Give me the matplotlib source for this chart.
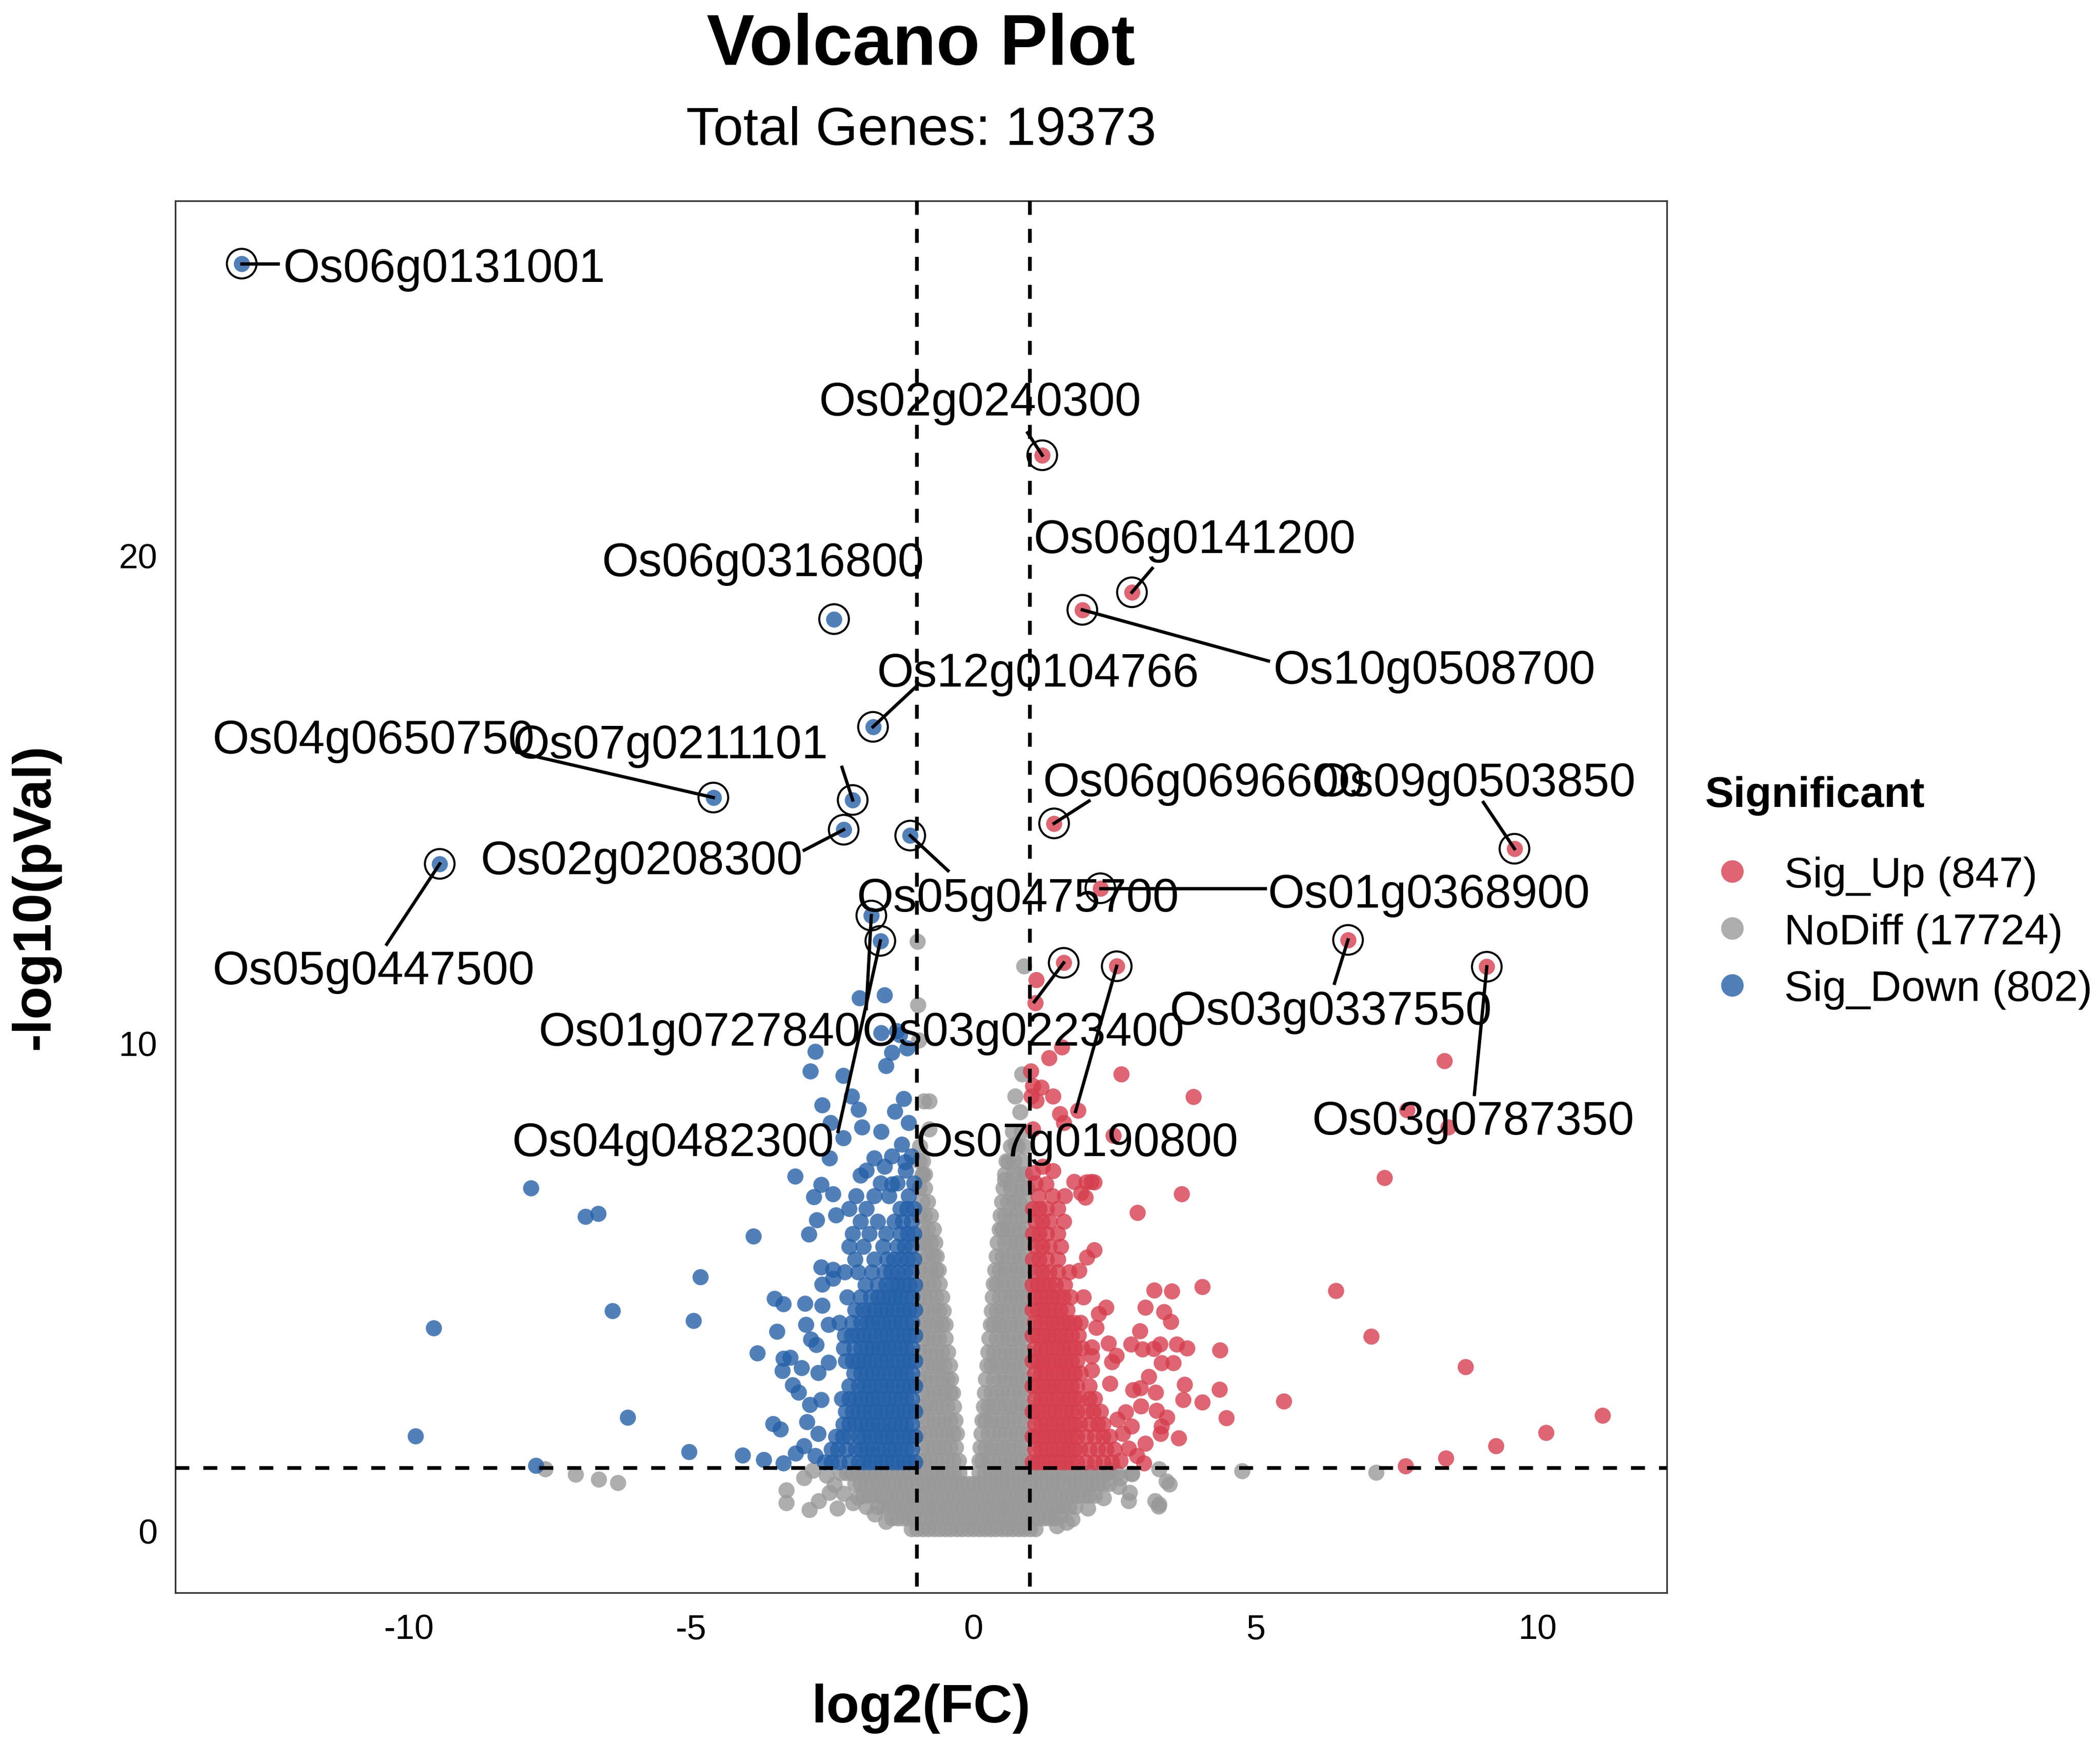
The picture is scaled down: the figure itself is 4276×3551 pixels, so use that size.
import matplotlib.pyplot as plt
from matplotlib.lines import Line2D

plt.rcParams['font.family'] = ['Liberation Sans', 'DejaVu Sans']
plt.rcParams['axes.unicode_minus'] = False

# ---- values ----
categories = ['Sig_Up', 'NoDiff', 'Sig_Down']
counts = [847, 17724, 802]
total_genes = 19373
fc_cut = 1.0
p_line = 1.301  # -log10(0.05)

# dense cores, read row by row: (-log10 p, [log2 FC ...])
nodiff_rows = [
    (0.05, [-1.1, -1.0, -0.9, -0.8, -0.7, -0.6, -0.5, -0.4, -0.3, -0.2, -0.1, 0.0, 0.1, 0.2, 0.3, 0.4, 0.5,
            0.6, 0.7, 0.8, 0.9, 1.0, 1.1]),
    (0.27, [-1.45, -1.35, -1.25, -1.15, -1.05, -0.95, -0.85, -0.75, -0.65, -0.55, -0.45, -0.35, -0.25, -0.15,
            -0.05, 0.05, 0.15, 0.25, 0.35, 0.45, 0.55, 0.65, 0.75, 0.85, 0.95, 1.05, 1.15, 1.25, 1.35, 1.45]),
    (0.5, [-1.7, -1.6, -1.5, -1.4, -1.3, -1.2, -1.1, -1.0, -0.9, -0.8, -0.7, -0.6, -0.5, -0.4, -0.3, -0.2,
           -0.1, 0.0, 0.1, 0.2, 0.3, 0.4, 0.5, 0.6, 0.7, 0.8, 0.9, 1.0, 1.1, 1.2, 1.3, 1.4, 1.5, 1.6, 1.7, 1.8]),
    (0.74, [-1.95, -1.85, -1.75, -1.65, -1.55, -1.45, -1.35, -1.25, -1.15, -1.05, -0.95, -0.85, -0.75, -0.65,
            -0.55, -0.45, -0.35, -0.25, -0.15, -0.05, 0.05, 0.15, 0.25, 0.35, 0.45, 0.55, 0.65, 0.75, 0.85,
            0.95, 1.05, 1.15, 1.25, 1.35, 1.45, 1.55, 1.65, 1.75, 1.85, 1.95, 2.05, 2.15]),
    (0.98, [-2.1, -2.0, -1.9, -1.8, -1.7, -1.6, -1.5, -1.4, -1.3, -1.2, -1.1, -1.0, -0.9, -0.8, -0.7, -0.6,
            -0.5, -0.4, -0.3, -0.2, -0.1, 0.0, 0.1, 0.2, 0.3, 0.4, 0.5, 0.6, 0.7, 0.8, 0.9, 1.0, 1.1, 1.2,
            1.3, 1.4, 1.5, 1.6, 1.7, 1.8, 1.9, 2.0, 2.1, 2.2, 2.3, 2.4]),
    (1.2, [-2.35, -2.25, -2.15, -2.05, -1.95, -1.85, -1.75, -1.65, -1.55, -1.45, -1.35, -1.25, -1.15, -1.05,
           -0.95, -0.85, -0.75, -0.65, -0.55, -0.45, -0.35, -0.25, 0.1, 0.2, 0.3, 0.4, 0.5, 0.6, 0.7, 0.8,
           0.9, 1.0, 1.1, 1.2, 1.3, 1.4, 1.5, 1.6, 1.7, 1.8, 1.9, 2.0, 2.1, 2.2, 2.3, 2.4, 2.55]),
    (1.45, [-0.96, -0.86, -0.76, -0.66, -0.56, -0.46, -0.36, -0.26, 0.1, 0.16, 0.26, 0.36, 0.46, 0.56, 0.66,
            0.76, 0.86, 0.96]),
    (1.72, [-0.91, -0.81, -0.71, -0.61, -0.51, -0.41, -0.31, 0.12, 0.21, 0.31, 0.41, 0.51, 0.61, 0.71, 0.81,
            0.91]),
    (2.0, [-0.96, -0.86, -0.76, -0.66, -0.56, -0.46, -0.36, -0.3, 0.14, 0.26, 0.36, 0.46, 0.56, 0.66, 0.76,
           0.86, 0.96]),
    (2.28, [-0.91, -0.81, -0.71, -0.61, -0.51, -0.41, -0.32, 0.16, 0.21, 0.31, 0.41, 0.51, 0.61, 0.71, 0.81,
            0.91]),
    (2.56, [-0.96, -0.86, -0.76, -0.66, -0.56, -0.46, -0.35, 0.18, 0.26, 0.36, 0.46, 0.56, 0.66, 0.76, 0.86,
            0.96]),
    (2.84, [-0.91, -0.81, -0.71, -0.61, -0.51, -0.41, -0.37, 0.2, 0.31, 0.41, 0.51, 0.61, 0.71, 0.81, 0.91]),
    (3.12, [-0.96, -0.86, -0.76, -0.66, -0.56, -0.46, -0.4, 0.22, 0.36, 0.46, 0.56, 0.66, 0.76, 0.86, 0.96]),
    (3.4, [-0.91, -0.81, -0.71, -0.61, -0.51, -0.42, 0.24, 0.31, 0.41, 0.51, 0.61, 0.71, 0.81, 0.91]),
    (3.68, [-0.96, -0.86, -0.76, -0.66, -0.56, -0.45, 0.26, 0.36, 0.46, 0.56, 0.66, 0.76, 0.86, 0.96]),
    (3.96, [-0.91, -0.81, -0.71, -0.61, -0.5, 0.28, 0.41, 0.51, 0.61, 0.71, 0.81, 0.91]),
    (4.24, [-0.96, -0.86, -0.76, -0.66, -0.56, -0.5, 0.3, 0.36, 0.46, 0.56, 0.66, 0.76, 0.86, 0.96]),
    (4.52, [-0.91, -0.81, -0.71, -0.61, -0.53, 0.32, 0.41, 0.51, 0.61, 0.71, 0.81, 0.91]),
    (4.8, [-0.96, -0.86, -0.76, -0.66, -0.56, 0.34, 0.46, 0.56, 0.66, 0.76, 0.86, 0.96]),
    (5.08, [-0.91, -0.81, -0.71, -0.6, 0.36, 0.41, 0.51, 0.61, 0.71, 0.81, 0.91]),
    (5.36, [-0.96, -0.86, -0.76, -0.66, -0.62, 0.38, 0.46, 0.56, 0.66, 0.76, 0.86, 0.96]),
    (5.64, [-0.91, -0.81, -0.71, -0.65, 0.41, 0.51, 0.61, 0.71, 0.81, 0.91]),
    (5.92, [-0.96, -0.86, -0.76, -0.68, 0.43, 0.56, 0.66, 0.76, 0.86, 0.96]),
    (6.2, [-0.91, -0.81, -0.71, 0.46, 0.51, 0.61, 0.71, 0.81, 0.91]),
    (6.48, [-0.96, -0.86, -0.76, 0.48, 0.56, 0.66, 0.76, 0.86, 0.96]),
    (6.76, [-0.91, -0.81, 0.5, 0.61, 0.71, 0.81, 0.91]),
    (7.04, [-0.96, -0.86, 0.53, 0.66, 0.76, 0.86, 0.96]),
    (7.32, [-0.91, -0.86, 0.56, 0.71, 0.81, 0.91]),
    (7.6, [-0.96, -0.9, 0.58, 0.72, 0.86]),
    (7.9, [-0.95, 0.66, 0.78, 0.9]),
    (8.2, [0.7, 0.85]),
]
nodiff_x = [-0.97, -0.98, -0.99, -0.88, -0.78, -0.78, -0.9, 0.9, 0.86, 0.74, 0.83, 0.56, 0.62, 0.74,
            -3.32, -3.32, -2.91, -2.74, -2.46, -2.3, -2.13, -2.41, -2.6, -2.85, -3.0, -2.55,
            -7.59, -7.05, -6.64, -6.3,
            2.58, 2.75, 3.22, 3.28, 3.42, 2.81, 2.42, 3.29, 4.76, 7.14, 3.47, 3.29, 2.8, 2.77,
            1.53, 1.75, 2.03, 2.31, 1.48, 1.65, 2.6, -1.55, -1.75, -1.9, -2.05]
nodiff_y = [10.07, 10.8, 12.1, 8.82, 8.82, 8.25, 7.3, 11.59, 9.38, 8.92, 8.6, 7.21, 7.57, 7.94,
            0.85, 0.58, 0.44, 0.62, 0.96, 0.78, 0.58, 0.47, 1.15, 1.25, 1.1, 0.8,
            1.28, 1.17, 1.07, 1.0,
            0.92, 0.62, 0.62, 0.51, 1.03, 1.18, 1.25, 1.28, 1.24, 1.21, 0.97, 0.55, 1.19, 0.8,
            0.33, 0.25, 0.47, 0.69, 0.11, 0.18, 1.1, 0.2, 0.35, 0.5, 0.7]

down_rows = [
    (1.42, [-1.04, -1.14, -1.24, -1.34, -1.44, -1.54, -1.64, -1.74, -1.84, -1.94, -2.04, -2.2, -2.38, -2.52,
            -2.64]),
    (1.68, [-1.09, -1.19, -1.29, -1.39, -1.49, -1.59, -1.69, -1.79, -1.89, -1.99, -2.09, -2.25, -2.4, -2.52]),
    (1.94, [-1.04, -1.14, -1.24, -1.34, -1.44, -1.54, -1.64, -1.74, -1.84, -1.94, -2.04, -2.2, -2.32, -2.44]),
    (2.2, [-1.09, -1.19, -1.29, -1.39, -1.49, -1.59, -1.69, -1.79, -1.89, -1.99, -2.09, -2.2, -2.31]),
    (2.46, [-1.04, -1.14, -1.24, -1.34, -1.44, -1.54, -1.64, -1.74, -1.84, -1.94, -2.04, -2.14, -2.26]),
    (2.72, [-1.09, -1.19, -1.29, -1.39, -1.49, -1.59, -1.69, -1.79, -1.89, -1.99, -2.09, -2.2, -2.33]),
    (2.98, [-1.04, -1.14, -1.24, -1.34, -1.44, -1.54, -1.64, -1.74, -1.84, -1.94, -2.04, -2.2]),
    (3.24, [-1.09, -1.19, -1.29, -1.39, -1.49, -1.59, -1.69, -1.79, -1.89, -1.99, -2.12]),
    (3.5, [-1.04, -1.14, -1.24, -1.34, -1.44, -1.54, -1.64, -1.74, -1.84, -1.94, -2.04, -2.14, -2.26]),
    (3.76, [-1.09, -1.19, -1.29, -1.39, -1.49, -1.59, -1.69, -1.79, -1.89, -1.99, -2.12, -2.3]),
    (4.02, [-1.04, -1.14, -1.24, -1.34, -1.44, -1.54, -1.64, -1.74, -1.84, -1.94, -2.05, -2.16, -2.28]),
    (4.28, [-1.09, -1.19, -1.29, -1.39, -1.49, -1.59, -1.69, -1.79, -1.89, -1.99, -2.15, -2.38]),
    (4.54, [-1.04, -1.14, -1.24, -1.34, -1.44, -1.54, -1.64, -1.74, -1.85, -1.96, -2.1]),
    (4.8, [-1.09, -1.19, -1.29, -1.39, -1.49, -1.59, -1.7, -1.82, -2.0, -2.24]),
    (5.06, [-1.04, -1.14, -1.24, -1.34, -1.44, -1.55, -1.7, -1.92]),
    (5.32, [-1.1, -1.22, -1.34, -1.46, -1.58, -1.8, -2.05, -2.28]),
    (5.58, [-1.05, -1.17, -1.29, -1.41, -1.53, -1.76, -2.1]),
    (5.84, [-1.1, -1.22, -1.35, -1.6, -1.95, -2.2]),
    (6.1, [-1.05, -1.17, -1.3, -1.55, -1.85, -2.14]),
    (6.36, [-1.1, -1.25, -1.4, -1.7, -2.0]),
    (6.62, [-1.05, -1.18, -1.3, -1.9, -2.2]),
    (6.88, [-1.15, -1.5, -1.76, -2.08]),
    (7.14, [-1.05, -1.35, -1.65]),
    (7.4, [-1.2, -1.9]),
    (7.7, [-1.1, -1.45]),
]
down_x = [-9.89, -9.57, -7.76, -7.84, -6.88, -6.65, -6.4, -6.13, -5.04, -4.96, -4.84, -4.09, -3.9, -3.83,
          -3.72, -3.53, -3.37, -3.48, -3.37, -3.39, -3.55, -3.42, -3.37, -3.16, -2.7, -2.83, -2.49, -2.78,
          -2.44, -2.92, -2.7, -2.49, -2.68, -2.49, -2.99, -2.68, -2.97, -2.88, -2.79, -2.57, -3.25, -3.05,
          -2.75, -2.57, -2.9, -3.1, -2.75, -3.0, -2.8, -3.15, -2.95, -2.7, -3.2,
          -2.02, -1.58, -2.8, -2.89, -2.31, -1.45, -1.55, -1.18, -1.31, -1.64, -1.36, -2.68, -2.16, -2.04,
          -1.24, -1.39, -1.15, -2.53, -1.64, -2.31, -1.98, -2.55, -2.0, -1.76, -1.58, -1.27, -1.21, -1.45]
down_y = [1.95, 4.17, 1.35, 7.04, 6.46, 6.52, 4.52, 2.34, 1.63, 4.32, 5.22, 1.56, 6.05, 3.66,
          1.47, 4.77, 4.66, 4.1, 3.55, 3.29, 2.21, 2.1, 1.4, 7.28, 7.11, 6.86, 6.92, 6.39,
          6.49, 6.09, 5.42, 5.37, 5.07, 5.19, 4.67, 4.63, 4.24, 3.94, 3.83, 4.24, 3.57, 3.35,
          3.25, 3.47, 2.6, 2.85, 2.0, 1.75, 1.55, 1.6, 2.25, 2.7, 3.0,
          10.94, 11.0, 9.84, 9.44, 9.35, 9.82, 9.55, 9.91, 10.18, 10.22, 10.26, 8.74, 8.92, 8.65,
          8.87, 8.61, 8.38, 8.38, 8.2, 8.07, 8.29, 7.66, 7.3, 7.66, 7.48, 7.94, 7.57, 7.12]

up_rows = [
    (1.42, [1.04, 1.14, 1.24, 1.34, 1.44, 1.54, 1.64, 1.74, 1.84, 2.0, 2.15, 2.3, 2.45]),
    (1.68, [1.09, 1.19, 1.29, 1.39, 1.49, 1.59, 1.69, 1.79, 1.89, 2.05, 2.2, 2.35, 2.5]),
    (1.94, [1.04, 1.14, 1.24, 1.34, 1.44, 1.54, 1.64, 1.74, 1.84, 2.0, 2.15, 2.3, 2.42]),
    (2.2, [1.09, 1.19, 1.29, 1.39, 1.49, 1.59, 1.69, 1.79, 1.89, 2.05, 2.2, 2.3]),
    (2.46, [1.04, 1.14, 1.24, 1.34, 1.44, 1.54, 1.64, 1.74, 1.84, 2.0, 2.12, 2.25]),
    (2.72, [1.09, 1.19, 1.29, 1.39, 1.49, 1.59, 1.69, 1.79, 1.89, 2.05, 2.15]),
    (2.98, [1.04, 1.14, 1.24, 1.34, 1.44, 1.54, 1.64, 1.74, 1.84, 2.05]),
    (3.24, [1.09, 1.19, 1.29, 1.39, 1.49, 1.59, 1.69, 1.79, 1.9]),
    (3.5, [1.04, 1.14, 1.24, 1.34, 1.44, 1.54, 1.64, 1.74, 1.84]),
    (3.76, [1.09, 1.19, 1.29, 1.39, 1.49, 1.59, 1.69, 1.79, 1.92]),
    (4.02, [1.04, 1.14, 1.24, 1.34, 1.44, 1.54, 1.64, 1.74, 1.86]),
    (4.28, [1.09, 1.19, 1.29, 1.39, 1.49, 1.59, 1.69, 1.79, 1.9]),
    (4.54, [1.04, 1.14, 1.24, 1.34, 1.44, 1.54, 1.66]),
    (4.8, [1.09, 1.19, 1.29, 1.39, 1.49, 1.59, 1.72, 1.95]),
    (5.06, [1.04, 1.14, 1.24, 1.34, 1.45, 1.62]),
    (5.32, [1.1, 1.22, 1.34, 1.5, 1.7]),
    (5.58, [1.05, 1.17, 1.3, 1.5]),
    (5.84, [1.1, 1.22, 1.35, 1.55]),
    (6.1, [1.05, 1.17, 1.3, 1.5]),
    (6.36, [1.1, 1.22, 1.35, 1.6]),
    (6.62, [1.05, 1.17, 1.3, 1.5]),
    (6.88, [1.15, 1.4, 1.62]),
    (7.14, [1.1]),
]
up_x = [11.15, 10.15, 9.26, 8.37, 7.66, 8.72, 7.05, 6.42, 5.5, 7.29, 3.9, 3.69, 2.91, 7.69, 8.42, 8.35,
        3.2, 3.52, 4.06, 3.05, 3.38, 3.5, 2.95, 3.31, 3.6, 3.79, 2.99, 3.19, 4.37, 3.33, 3.54, 3.11,
        3.74, 2.96, 3.23, 4.36, 3.72, 4.06, 2.97, 3.25, 3.43, 4.48, 2.8, 3.33, 3.32, 3.64, 3.02,
        1.11, 1.1, 1.57, 1.34, 2.62, 1.02, 1.05, 1.03, 1.11, 1.41, 1.53, 1.6, 1.85, 2.48, 1.05, 1.23,
        1.41, 1.29, 1.78, 2.09, 1.91, 1.05, 1.2, 2.0, 2.14, 1.98, 2.14, 2.01, 1.87, 2.35, 2.22, 2.18,
        2.39, 2.79, 2.53, 2.45, 2.1, 2.1, 2.1, 2.83, 2.42, 2.6, 2.75, 2.9, 2.65, 2.55, 2.7, 3.05]
up_y = [2.38, 2.03, 1.75, 1.5, 1.34, 3.37, 4.0, 4.94, 2.67, 7.25, 8.91, 6.92, 6.54, 8.64, 8.29, 9.65,
        4.95, 4.93, 5.02, 4.59, 4.5, 4.3, 4.11, 3.84, 3.84, 3.76, 3.74, 3.75, 3.72, 3.46, 3.46, 3.17,
        3.01, 2.94, 2.85, 2.91, 2.7, 2.65, 2.57, 2.48, 2.34, 2.33, 2.16, 2.16, 2.0, 1.91, 1.4,
        11.31, 10.84, 9.93, 9.71, 9.38, 9.44, 9.14, 8.92, 8.83, 8.92, 8.56, 8.38, 8.63, 8.12, 8.25, 7.48,
        7.39, 7.12, 7.17, 7.17, 6.94, 7.35, 9.11, 7.16, 7.16, 6.85, 5.77, 5.62, 5.35, 4.59, 4.46, 4.18,
        3.86, 3.84, 3.61, 3.48, 3.78, 3.6, 3.3, 2.9, 3.03, 1.45, 1.7, 1.55, 2.0, 2.3, 2.45, 1.8]

# labelled genes
gene_names = ['Os06g0131001', 'Os02g0240300', 'Os06g0141200', 'Os10g0508700', 'Os06g0316800',
              'Os12g0104766', 'Os04g0650750', 'Os07g0211101', 'Os02g0208300', 'Os05g0447500',
              'Os06g0696600', 'Os09g0503850', 'Os05g0475700', 'Os01g0368900', 'Os01g0727840',
              'Os04g0482300', 'Os03g0223400', 'Os07g0190800', 'Os03g0337550', 'Os03g0787350']
gene_fc = [-12.97, 1.22, 2.81, 1.93, -2.47, -1.78, -4.61, -2.14, -2.3, -9.46,
           1.43, 9.59, -1.12, 2.25, -1.81, -1.65, 1.6, 2.54, 6.64, 9.1]
gene_p = [26.0, 22.07, 19.26, 18.9, 18.71, 16.5, 15.05, 15.0, 14.39, 13.69,
          14.52, 14.0, 14.27, 13.19, 12.63, 12.11, 11.66, 11.59, 12.13, 11.58]

# label placement (text centre) and leader-line end, as laid out in the reference
label_xy = [(-9.38, 25.98), (0.12, 23.24), (3.92, 20.42), (8.17, 17.74), (-3.73, 19.94),
            (1.14, 17.68), (-10.63, 16.31), (-5.37, 16.2), (-5.88, 13.83), (-10.63, 11.57),
            (4.09, 15.43), (8.88, 15.43), (0.79, 13.06), (8.07, 13.14), (-4.85, 10.31),
            (-5.32, 8.05), (0.88, 10.31), (1.84, 8.05), (6.33, 10.75), (8.86, 8.49)]
seg_end = [(-12.33, 26.0), (0.96, 22.53), (3.17, 19.75), (5.23, 17.85), None,
           (-1.04, 17.3), (-8.09, 15.98), (-2.33, 15.67), (-3.0, 13.97), (-10.4, 12.04),
           (2.05, 14.98), (9.04, 14.95), (-0.45, 13.55), (5.17, 13.19), (-1.9, 10.72),
           (-2.4, 8.2), (1.08, 10.86), (1.81, 8.61), (6.4, 11.24), (8.88, 8.96)]


def flatten(rows, xs, ys):
    fx, fy = list(xs), list(ys)
    for y, row in rows:
        fx += row
        fy += [y] * len(row)
    return fx, fy


gx, gy = flatten(nodiff_rows, nodiff_x, nodiff_y)
dx, dy = flatten(down_rows, down_x, down_y)
ux, uy = flatten(up_rows, up_x, up_y)
for fc, p in zip(gene_fc, gene_p):
    if fc > 0:
        ux.append(fc); uy.append(p)
    else:
        dx.append(fc); dy.append(p)

colors = {'Sig_Up': '#D63E4E', 'NoDiff': '#999999', 'Sig_Down': '#2560A8'}

fig = plt.figure(figsize=(4276 / 300, 3551 / 300), dpi=300)
ax = fig.add_axes([0.0834, 0.0867, 0.7103, 0.7982])

ax.scatter(gx, gy, s=62, c=colors['NoDiff'], alpha=0.8, linewidths=0, zorder=1)
ax.scatter(dx, dy, s=62, c=colors['Sig_Down'], alpha=0.8, linewidths=0, zorder=2)
ax.scatter(ux, uy, s=62, c=colors['Sig_Up'], alpha=0.8, linewidths=0, zorder=2)

ax.set_xlim(-14.15, 12.29)
ax.set_ylim(-1.26, 27.29)
y0, y1 = ax.get_ylim()
x0, x1 = ax.get_xlim()
dash = (0, (3.8, 3.8))
for v in (-fc_cut, fc_cut):
    ax.plot([v, v], [y1, y0], color='black', lw=1.8, ls=dash, zorder=3)
ax.plot([x0, x1], [p_line, p_line], color='black', lw=1.8, ls=dash, zorder=3)

# rings, leader lines, labels
ax.scatter(gene_fc, gene_p, s=210, facecolors='none', edgecolors='black', linewidths=1.0, zorder=4)
for n, fc, p, (tx, ty), end in zip(gene_names, gene_fc, gene_p, label_xy, seg_end):
    if end is not None:
        ax.plot([fc, end[0]], [p, end[1]], color='black', lw=1.6, zorder=4)
    ax.text(tx, ty - 0.35, n, fontsize=23, ha='center', va='baseline', zorder=5)

ax.set_xticks([-10, -5, 0, 5, 10])
ax.set_xticklabels(['-10', '-5', '0', '5', '10'])
ax.set_yticks([0, 10, 20])
ax.set_yticklabels(['0', '10', '20'])
ax.tick_params(axis='both', length=0, labelsize=17, colors='black')
ax.tick_params(axis='x', pad=10.3)
ax.tick_params(axis='y', pad=8.7)
for sp in ax.spines.values():
    sp.set_color('#333333')
    sp.set_linewidth(0.8)

cx = 0.43857
fig.text(cx, 0.96291, 'Volcano Plot', fontsize=35, fontweight='bold', ha='center', va='baseline')
fig.text(cx, 0.91692, f'Total Genes: {total_genes}', fontsize=26.5, ha='center', va='baseline')
fig.text(cx, 0.01239, 'log2(FC)', fontsize=26.4, fontweight='bold', ha='center', va='baseline')
fig.text(100 / 4276, 0.4858, '-log10(pVal)', fontsize=26.4, fontweight='bold', rotation=90,
         rotation_mode='anchor', ha='center', va='baseline')

# legend
fig.text(0.81186, 0.53731, 'Significant', fontsize=21, fontweight='bold', ha='left', va='baseline')
mark_y = [0.50053, 0.46787, 0.43517]
text_y = [0.49121, 0.45851, 0.42608]
for cat, n, my, ty in zip(categories, counts, mark_y, text_y):
    fig.add_artist(Line2D([0.82484], [my], marker='o', markersize=11, markeredgewidth=0,
                          color=colors[cat], alpha=0.8, transform=fig.transFigure))
    fig.text(0.84974, ty, f'{cat} ({n})', fontsize=21, ha='left', va='baseline')

fig.savefig('out.png', dpi=300)
